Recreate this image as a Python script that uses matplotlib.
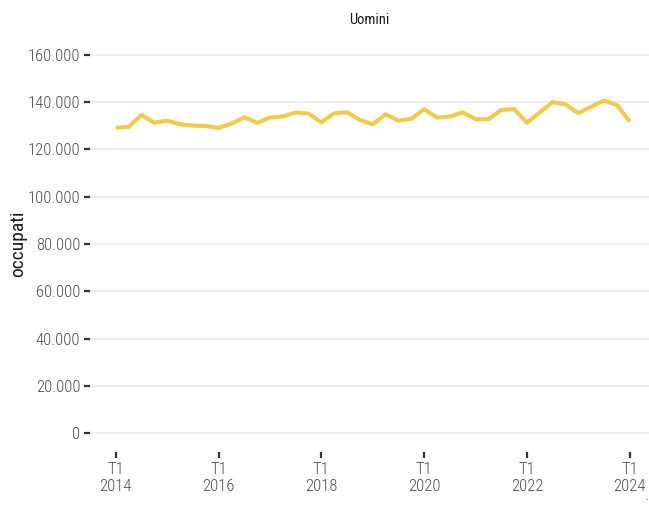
import matplotlib
matplotlib.use("Agg")
import matplotlib.pyplot as plt
from matplotlib.ticker import FuncFormatter

plt.rcParams['font.family'] = ['Roboto Condensed', 'Liberation Sans Narrow', 'DejaVu Sans']
plt.rcParams['font.stretch'] = 'condensed'
plt.rcParams['font.weight'] = 'light'

# Quarterly series 2014 T1 .. 2024 T1
years = list(range(2014, 2025))
quarters = [f"{y} T{q}" for y in years for q in (1, 2, 3, 4)][:41]
occupati = [
    129.2, 129.5, 134.6, 131.3, 132.2, 130.7, 130.1, 129.9, 129.1, 130.9,
    133.6, 131.3, 133.5, 134.0, 135.6, 135.2, 131.5, 135.3, 135.7, 132.5,
    130.7, 134.9, 132.2, 133.0, 137.0, 133.5, 133.9, 135.7, 132.8, 132.8,
    136.7, 137.1, 131.3, 135.7, 140.0, 139.1, 135.4, 138.1, 140.7, 138.8,
    131.8,
]
occupati = [v * 1000 for v in occupati]
yticks = [0, 20000, 40000, 60000, 80000, 100000, 120000, 140000, 160000]
xtick_labels = ["T1\n2014", "T1\n2016", "T1\n2018", "T1\n2020", "T1\n2022", "T1\n2024"]
panel_title = "Uomini"
ylabel = "occupati"

W, H = 649, 514
fig = plt.figure(figsize=(W / 100, H / 100), dpi=100)
ax = fig.add_axes([90 / W, 1 - 452 / H, (649 - 90) / W, (452 - 36) / H])

x = list(range(len(occupati)))
ax.plot(x, occupati, color='#F4C944', lw=2.9, solid_joinstyle='round',
        solid_capstyle='butt', zorder=3)

ax.set_ylim(-8000, 168000)
ax.set_xlim(-2, 41.5)
ax.set_yticks(yticks)
ax.yaxis.set_major_formatter(FuncFormatter(lambda v, p: f"{int(v):,}".replace(",", ".")))
ax.set_xticks([0, 8, 16, 24, 32, 40])
ax.set_xticklabels(xtick_labels)

ax.grid(axis='y', color='#ebebeb', lw=1.2)
ax.grid(axis='x', visible=False)
ax.set_axisbelow(True)
for s in ax.spines.values():
    s.set_visible(False)
ax.tick_params(axis='both', colors='#333333', length=4, width=1.6, labelsize=12,
               labelcolor='#4d4d4d')
ax.tick_params(axis='y', pad=3)
ax.tick_params(axis='x', pad=3)

ax.set_ylabel(ylabel, fontsize=14, color='#1a1a1a', fontweight='normal')
ax.yaxis.set_label_coords(-(90 - 27) / (649 - 90), 0.5)
fig.text((90 + 649) / 2 / W, 1 - 20 / H, panel_title, ha='center', va='center',
         fontsize=10.5, color='#1a1a1a', fontweight='normal')
fig.text(648 / W, 1 - 497 / H, '.', ha='right', va='center', fontsize=8, color='#1a1a1a')

fig.savefig("out.png", dpi=100)
